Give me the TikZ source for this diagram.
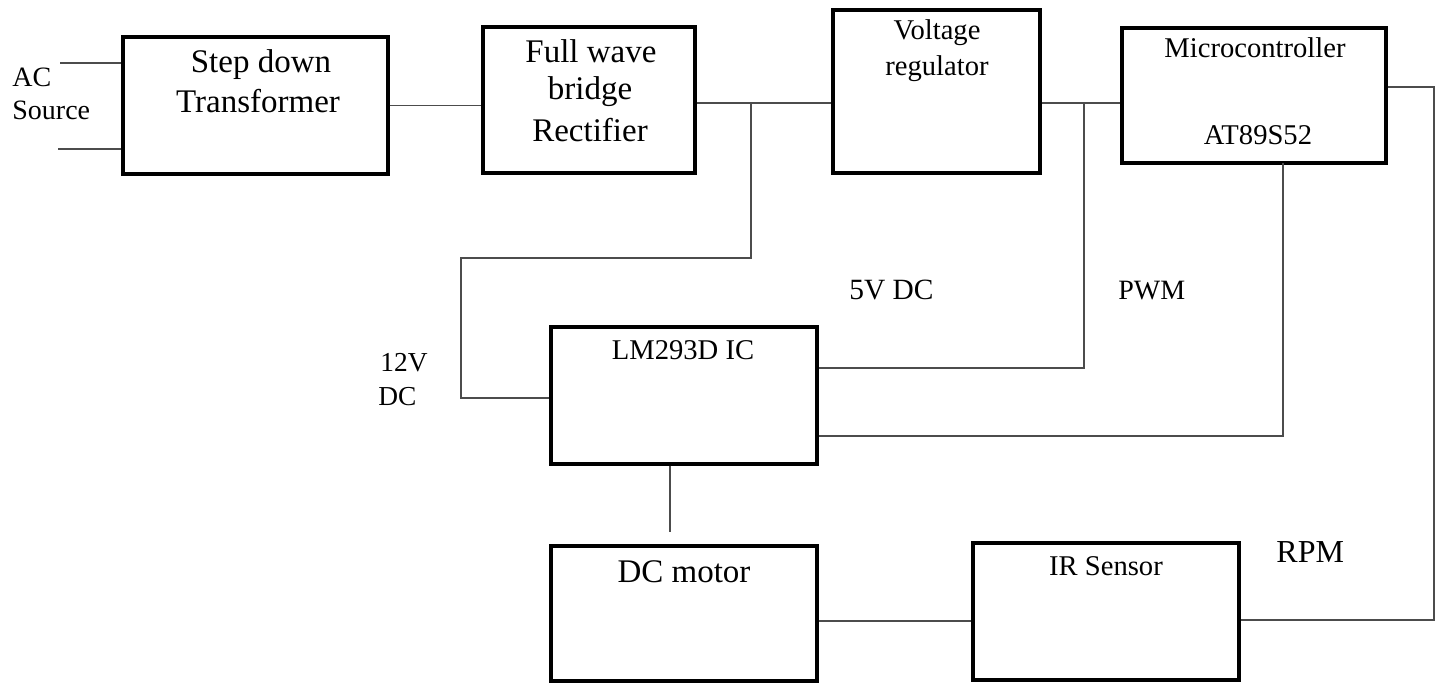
\documentclass[tikz,border=0pt]{standalone}
\usepackage{fontspec}
\setmainfont{Liberation Serif}
\begin{document}
\begin{tikzpicture}[x=0.5pt,y=-0.5pt,
  blk/.style={draw=black,line width=1.6pt,fill=none,inner sep=0pt,rectangle},
  wire/.style={draw=black!70,line width=0.8pt},
  big/.style={inner sep=0pt,anchor=base,font=\fontsize{16.5}{19}\selectfont},
  mid/.style={inner sep=0pt,anchor=base,font=\fontsize{14.3}{17}\selectfont},
  lbl/.style={inner sep=0pt,anchor=base west,font=\fontsize{14}{17}\selectfont}]
\useasboundingbox (0,0) rectangle (1440,683);
% blocks
\node[blk,minimum width=132.5pt,minimum height=68.5pt] (tr) at (255.5,105.5) {};
\node[blk,minimum width=106pt,minimum height=73pt] (rect) at (589,100) {};
\node[blk,minimum width=103.5pt,minimum height=81.5pt] (vr) at (936.5,91.5) {};
\node[blk,minimum width=132pt,minimum height=67.5pt] (mc) at (1254,95.5) {};
\node[blk,minimum width=133pt,minimum height=68.5pt] (lm) at (684,395.5) {};
\node[blk,minimum width=133pt,minimum height=67.5pt] (dcm) at (684,613.5) {};
\node[blk,minimum width=133pt,minimum height=68.5pt] (ir) at (1106,611.5) {};
% texts
\node[big] (t1a) at (261,73) {Step down};
\node[big] (t1b) at (258,113) {Transformer};
\node[big] (t2a) at (591,63) {Full wave};
\node[big] (t2b) at (590,100) {bridge};
\node[big] (t2c) at (590,142) {Rectifier};
\node[mid] (t3a) at (937,40) {Voltage};
\node[mid] (t3b) at (937,76) {regulator};
\node[mid] (t4a) at (1255,58) {Microcontroller};
\node[mid] (t4b) at (1258,145) {AT89S52};
\node[mid] (t5) at (683,360) {LM293D IC};
\node[big] (t6) at (684,582) {DC motor};
\node[mid] (t7) at (1106,576) {IR Sensor};
\node[lbl] (lac) at (12,87) {AC};
\node[lbl] (lsrc) at (12,120) {Source};
\node[lbl,font=\fontsize{13.7}{16}\selectfont] (l12) at (380,372) {12V};
\node[lbl,font=\fontsize{13.7}{16}\selectfont] (ldc) at (378,406) {DC};
\node[lbl,font=\fontsize{14.7}{17}\selectfont] (l5v) at (849,300) {5V DC};
\node[lbl] (lpwm) at (1118,300) {PWM};
\node[lbl,font=\fontsize{16}{19}\selectfont] (lrpm) at (1276,563) {RPM};
% coordinates
\coordinate (ac1) at (60,63);
\coordinate (ac2) at (58,149);
\coordinate (j1) at (751,103);
\coordinate (c1) at (751,258);
\coordinate (c2) at (461,258);
\coordinate (c3) at (461,398);
\coordinate (j2) at (1084,103);
\coordinate (c4) at (1084,368);
\coordinate (m1) at (1283,163);
\coordinate (m2) at (1283,436);
\coordinate (r1) at (1434,87);
\coordinate (r2) at (1434,620);
\coordinate (b1) at (670,532);
\coordinate (h1) at (0,621);
% connectors
\draw[wire] (ac1) -- (ac1 -| tr.west);
\draw[wire] (ac2) -- (ac2 -| tr.west);
\draw[wire] (tr.east) -- (tr.east -| rect.west);
\draw[wire] (rect.east |- j1) -- (j1 -| vr.west);
\draw[wire] (j1) -- (c1) -- (c2) -- (c3) -- (c3 -| lm.west);
\draw[wire] (vr.east |- j2) -- (j2 -| mc.west);
\draw[wire] (j2) -- (c4) -- (c4 -| lm.east);
\draw[wire] (m1) -- (m2) -- (m2 -| lm.east);
\draw[wire] (mc.east |- r1) -- (r1) -- (r2) -- (r2 -| ir.east);
\draw[wire] (b1 |- lm.south) -- (b1);
\draw[wire] (h1 -| dcm.east) -- (h1 -| ir.west);
\end{tikzpicture}
\end{document}
